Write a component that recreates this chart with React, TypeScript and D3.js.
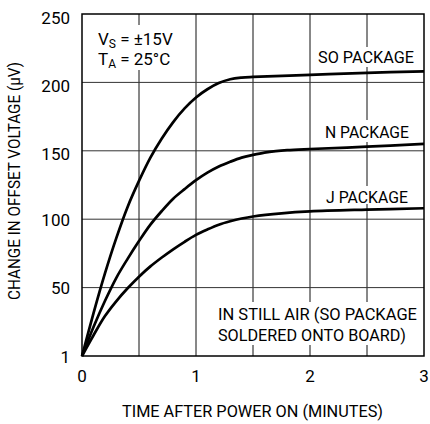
import React from "react";
import * as d3 from "d3";

const soTime = [0, 0.1, 0.2, 0.3, 0.4, 0.5, 0.6, 0.7, 0.8, 0.9, 1.0, 1.1, 1.2, 1.3, 1.4, 1.5, 2.0, 2.5, 3.0];
const soValue = [0, 31, 60, 86, 109, 128, 145, 159, 171, 181, 189, 195, 199.5, 202.3, 203.5, 204, 205.5, 207, 208];
const nTime = [0, 0.1, 0.2, 0.3, 0.4, 0.5, 0.6, 0.7, 0.8, 0.9, 1.0, 1.1, 1.2, 1.3, 1.4, 1.5, 1.6, 1.7, 1.8, 2.0, 2.5, 3.0];
const nValue = [0, 21, 40, 57, 71, 84, 96, 106, 115, 122, 128.5, 134, 138.5, 142, 145, 147, 148.7, 149.8, 150.5, 151.3, 153, 155];
const jTime = [0, 0.1, 0.2, 0.3, 0.4, 0.5, 0.6, 0.7, 0.8, 0.9, 1.0, 1.1, 1.2, 1.3, 1.4, 1.5, 1.75, 2.0, 2.5, 3.0];
const jValue = [0, 15, 29, 40, 49.5, 58, 65.5, 72, 78, 83.5, 88.5, 92.5, 96, 98.5, 100.5, 102, 104.3, 105.7, 107, 108];

const xTicks = [0, 1, 2, 3];
const xTickLabels = ["0", "1", "2", "3"];
const yTicks = [0, 50, 100, 150, 200, 250];
const yTickLabels = ["1", "50", "100", "150", "200", "250"];
const xGrid = [0.5, 1, 1.5, 2, 2.5];
const yGrid = [50, 100, 150, 200];

const FONT = "Roboto, 'Liberation Sans', sans-serif";

export default function App() {
  const left = 82, right = 424, top = 14, bottom = 356;
  const x = d3.scaleLinear().domain([0, 3]).range([left, right]);
  const y = d3.scaleLinear().domain([0, 250]).range([bottom, top]);
  const line = d3
    .line<[number, number]>()
    .x((d) => x(d[0]))
    .y((d) => y(d[1]))
    .curve(d3.curveCatmullRom.alpha(0.5));
  const series = [
    soTime.map((t, i) => [t, soValue[i]] as [number, number]),
    nTime.map((t, i) => [t, nValue[i]] as [number, number]),
    jTime.map((t, i) => [t, jValue[i]] as [number, number]),
  ];
  const fs = 17;
  const adj = "spacingAndGlyphs";
  return (
    <svg
      width={430}
      height={424}
      style={{ position: "absolute", left: 0, top: 0, background: "#fff" }}
      fontFamily={FONT}
    >
      {xGrid.map((g) => (
        <line key={"xg" + g} x1={x(g)} x2={x(g)} y1={top} y2={bottom} stroke="#111" strokeWidth={1} />
      ))}
      {yGrid.map((g) => (
        <line key={"yg" + g} x1={left} x2={right} y1={y(g)} y2={y(g)} stroke="#333" strokeWidth={1} />
      ))}
      <rect x={92} y={25} width={84} height={45} fill="#fff" />
      <rect x={316} y={47} width={102} height={20} fill="#fff" />
      <rect x={320} y={120} width={98} height={22} fill="#fff" />
      <rect x={320} y={186} width={98} height={18} fill="#fff" />
      <rect x={214} y={302} width={206} height={43} fill="#fff" />
      {series.map((s, i) => (
        <path key={i} d={line(s) || ""} fill="none" stroke="#000" strokeWidth={2.7} strokeLinejoin="round" />
      ))}
      <rect x={left} y={top} width={right - left} height={bottom - top} fill="none" stroke="#000" strokeWidth={1.5} />
      {yTicks.map((t, i) => (
        <text
          key={"yt" + t}
          x={70}
          y={y(t) + (t >= 150 ? 3.5 : 0.5)}
          textAnchor="end"
          dominantBaseline="central"
          fontSize={fs}
          fill="#000"
        >
          {yTickLabels[i]}
        </text>
      ))}
      {xTicks.map((t, i) => (
        <text key={"xt" + t} x={x(t)} y={382} textAnchor="middle" fontSize={fs} fill="#000">
          {xTickLabels[i]}
        </text>
      ))}
      <text x={122} y={417} fontSize={fs} fill="#000" textLength={261} lengthAdjust={adj}>
        TIME AFTER POWER ON (MINUTES)
      </text>
      <text
        transform={`translate(20,${300}) rotate(-90)`}
        fontSize={fs}
        fill="#000"
        textLength={238}
        lengthAdjust={adj}
      >
        CHANGE IN OFFSET VOLTAGE (µV)
      </text>
      <text x={98} y={45} fontSize={fs} fill="#000">
        V<tspan fontSize={12} dy={3}>S</tspan>
        <tspan dy={-3}> = ±15V</tspan>
      </text>
      <text x={98} y={65} fontSize={fs} fill="#000">
        T<tspan fontSize={12} dy={3}>A</tspan>
        <tspan dy={-3}> = 25°C</tspan>
      </text>
      <text x={318} y={63} fontSize={fs} fill="#000" textLength={96} lengthAdjust={adj}>SO PACKAGE</text>
      <text x={325} y={138} fontSize={fs} fill="#000" textLength={84} lengthAdjust={adj}>N PACKAGE</text>
      <text x={326} y={203} fontSize={fs} fill="#000" textLength={82} lengthAdjust={adj}>J PACKAGE</text>
      <text x={218} y={320} fontSize={fs} fill="#000" textLength={199} lengthAdjust={adj}>IN STILL AIR (SO PACKAGE</text>
      <text x={218} y={341} fontSize={fs} fill="#000" textLength={188} lengthAdjust={adj}>SOLDERED ONTO BOARD)</text>
    </svg>
  );
}
